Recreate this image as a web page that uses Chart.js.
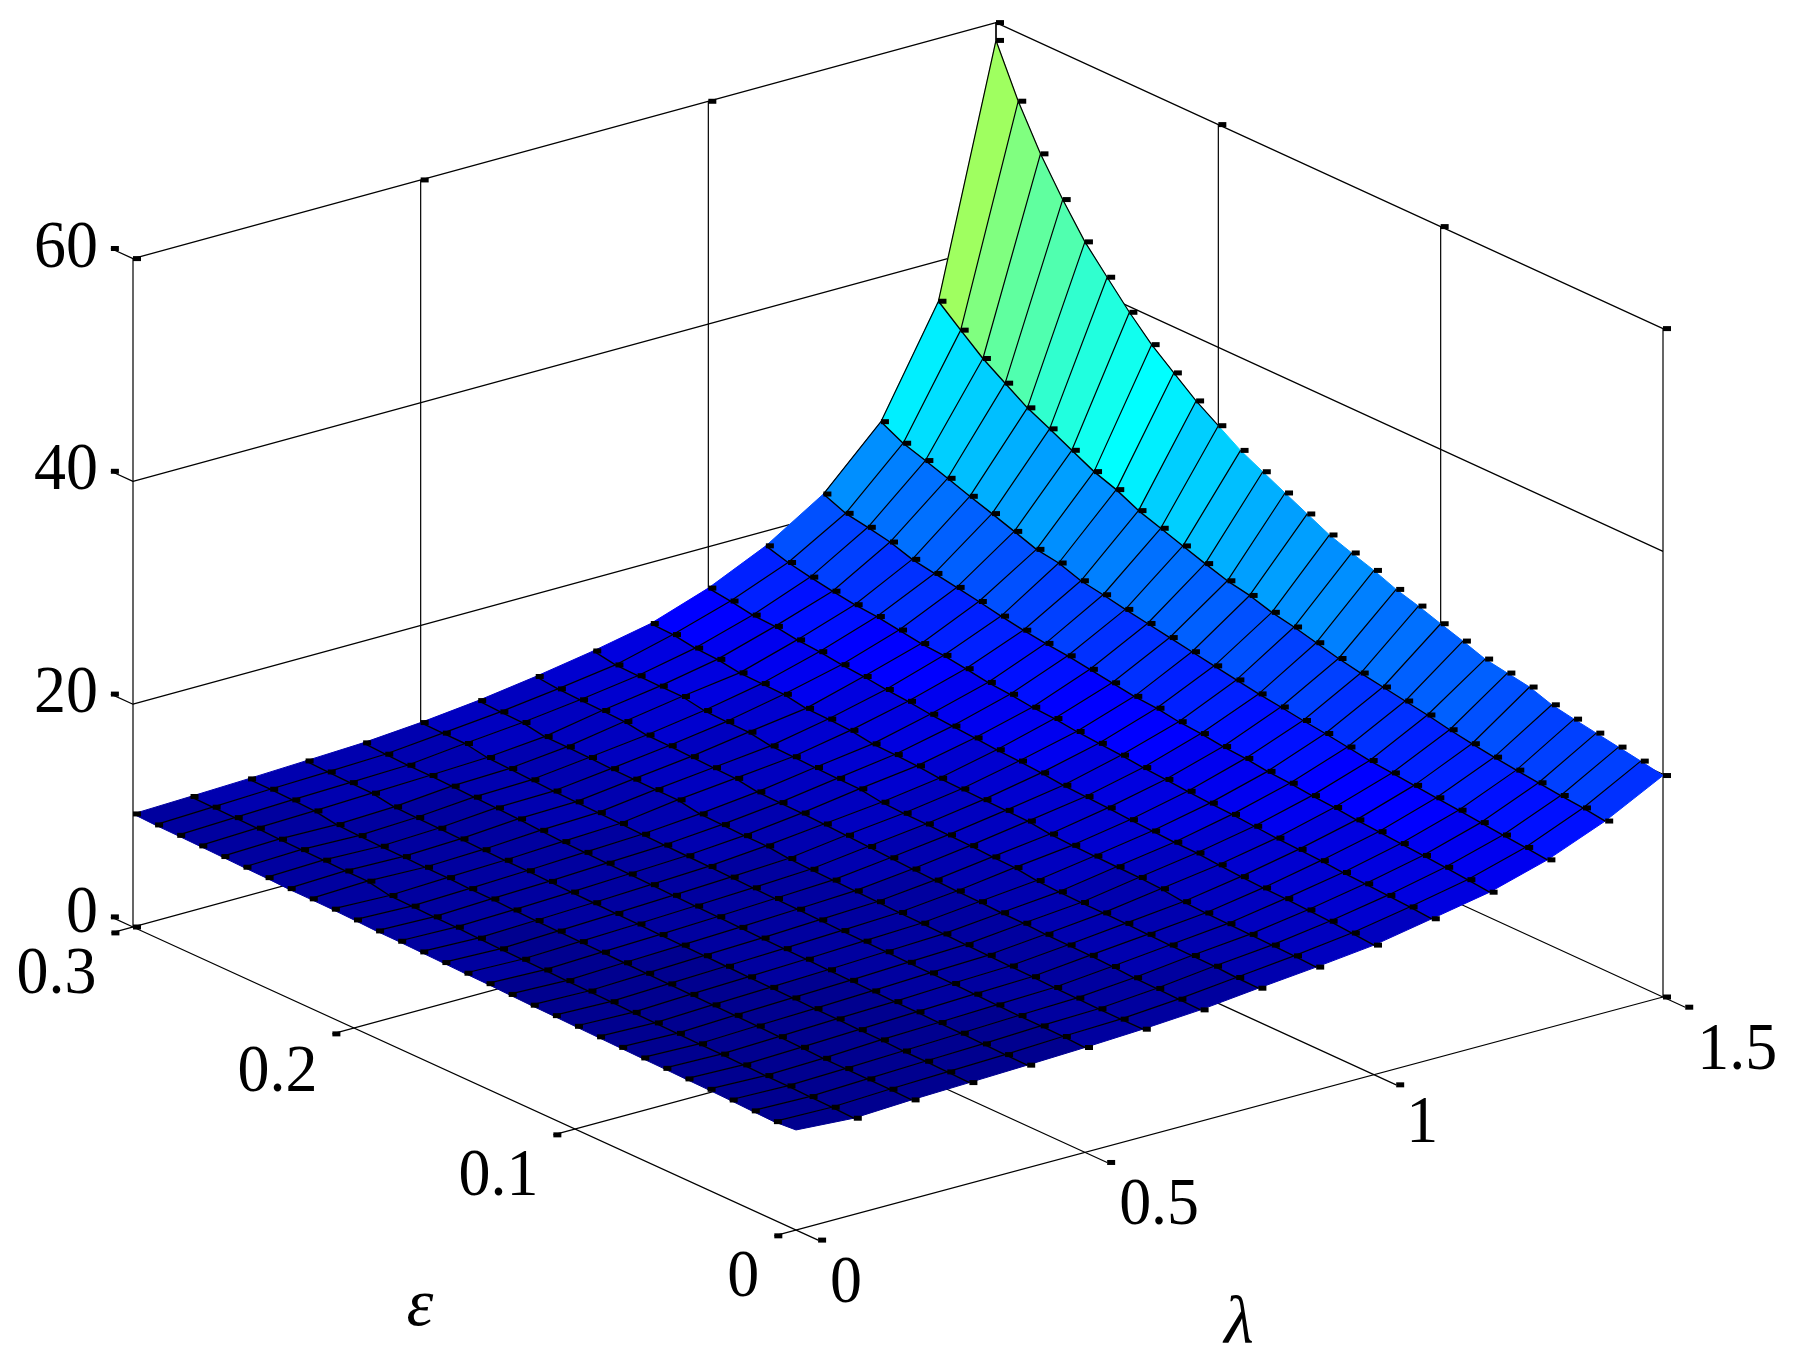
<!DOCTYPE html>
<html>
<head>
<meta charset="utf-8">
<title>Surface</title>
<script src="https://cdn.jsdelivr.net/npm/chart.js@4/dist/chart.umd.js"></script>
<style>
	html, body { margin: 0; padding: 0; background: #fff; }
	canvas { display: block; }
</style>
</head>
<body>
<canvas id="chart" width="1796" height="1370"></canvas>
<script>
const lambdaValues = [0, 0.1, 0.2, 0.3, 0.4, 0.5, 0.6, 0.7, 0.8, 0.9, 1, 1.1, 1.2, 1.3, 1.4, 1.5];
const epsilonValues = [0, 0.01, 0.02, 0.03, 0.04, 0.05, 0.06, 0.07, 0.08, 0.09, 0.1, 0.11, 0.12, 0.13, 0.14, 0.15,
	0.16, 0.17, 0.18, 0.19, 0.2, 0.21, 0.22, 0.23, 0.24, 0.25, 0.26, 0.27, 0.28, 0.29, 0.3];

// surface height along epsilon = 0 .. 0.3, one array per lambda
const zLambda00 = [8.98,8.82,8.88,8.95,9.0,9.03,9.07,9.1,9.14,9.18,9.22,9.27,9.3,9.36,9.42,9.45,9.5,9.55,9.6,9.62,9.7,9.76,9.78,9.79,9.87,9.9,9.95,10.0,10.04,10.07,10.15];
const zLambda01 = [8.64,8.72,8.77,8.82,8.84,8.89,8.95,8.97,9.0,9.03,9.07,9.12,9.17,9.2,9.25,9.3,9.33,9.38,9.46,9.48,9.53,9.58,9.96,9.97,10.03,10.07,10.1,10.18,10.22,10.25,10.30];
const zLambda02 = [8.89,8.94,8.96,8.98,8.99,9.07,9.12,9.17,9.22,9.25,9.28,9.32,9.36,9.4,9.44,9.48,9.52,9.56,9.6,9.68,9.7,9.78,9.8,9.85,9.87,9.92,10.0,10.32,10.4,10.45,10.47];
const zLambda03 = [9.05,9.1,9.15,9.16,9.25,9.26,9.32,9.33,9.38,9.42,9.46,9.5,9.54,9.58,9.62,9.66,9.7,9.75,9.8,9.85,9.9,9.93,9.97,10.03,10.08,10.13,10.18,10.5,10.54,10.59,10.67];
const zLambda04 = [9.22,9.26,9.31,9.36,9.41,9.46,9.47,9.52,9.56,9.6,9.64,9.68,9.72,9.77,9.82,9.87,9.92,9.97,10.02,10.08,10.14,10.2,10.3,10.42,10.5,10.55,10.63,10.68,10.69,10.77,10.88];
const zLambda05 = [9.41,9.49,9.53,9.55,9.6,9.65,9.7,9.74,9.78,9.82,9.86,9.9,9.95,10.0,10.05,10.1,10.15,10.2,10.25,10.3,10.36,10.42,10.48,10.54,10.6,10.7,10.8,10.88,11.23,11.25,11.29];
const zLambda06 = [9.66,9.65,9.67,9.72,9.76,9.82,9.87,9.92,9.97,10.02,10.07,10.12,10.18,10.24,10.3,10.36,10.42,10.64,10.65,10.73,10.78,11.13,11.14,11.17,11.2,11.29,11.34,11.35,11.7,11.75,11.85];
const zLambda07 = [10.0,10.05,10.1,10.15,10.25,10.34,10.36,10.41,10.49,10.52,10.6,10.65,10.72,10.8,10.9,11.0,11.1,11.2,11.27,11.3,11.35,11.65,11.7,11.78,11.85,11.9,12.2,12.28,12.33,12.4,12.6];
const zLambda08 = [10.55,10.6,10.7,10.75,10.78,10.83,10.9,10.93,10.95,11.0,11.1,11.35,11.4,11.5,11.55,11.62,11.67,11.75,12.04,12.07,12.13,12.19,12.25,12.57,12.61,12.69,13.04,13.06,13.08,13.14,13.48];
const zLambda09 = [11.05,11.15,11.2,11.25,11.3,11.35,11.45,11.7,11.8,11.85,11.9,11.95,12.05,12.3,12.35,12.4,12.45,12.5,12.7,12.8,12.85,13.15,13.25,13.3,13.65,13.7,13.75,14.05,14.15,14.45,14.53];
const zLambda10 = [11.63,11.8,11.95,12.05,12.15,12.2,12.3,12.45,12.6,12.65,12.75,12.85,13.0,13.1,13.2,13.4,13.55,13.65,13.8,13.95,14.1,14.35,14.5,14.75,14.9,15.15,15.3,15.6,15.7,16.05,16.3];
const zLambda11 = [12.6,12.75,12.87,13.0,13.1,13.25,13.35,13.45,13.6,13.75,13.85,14.0,14.15,14.3,14.5,14.65,14.8,15.05,15.15,15.4,15.55,15.87,16.15,16.3,16.6,16.9,17.05,17.35,17.7,18.1,18.68];
const zLambda12 = [13.59,13.8,14.0,14.15,14.3,14.45,14.6,14.8,14.95,15.15,15.3,15.55,15.7,15.95,16.1,16.4,16.55,16.85,17.15,17.45,17.65,17.92,18.27,18.67,19.02,19.36,19.71,20.35,20.76,21.1,21.92];
const zLambda13 = [15.1,15.3,15.5,15.7,15.9,16.1,16.3,16.5,16.7,17.0,17.3,17.55,17.85,18.11,18.45,18.8,19.15,19.51,19.86,20.21,20.61,20.95,21.63,21.94,22.64,23.32,23.96,24.66,25.34,25.98,27.0];
const zLambda14 = [17.19,17.45,17.65,17.88,18.1,18.35,18.64,18.98,19.39,19.73,20.07,20.41,20.8,21.3,21.8,22.2,22.8,23.2,23.83,24.5,25.17,25.84,26.81,27.51,28.51,29.52,30.49,31.79,33.09,34.72,36.4];
const zLambda15 = [19.88,20.26,20.6,20.94,21.28,21.65,22.33,22.67,23.01,23.71,24.35,25.02,25.6,26.39,27.04,27.74,28.71,29.68,30.67,31.67,32.97,34.28,35.88,37.5,39.49,41.72,43.98,46.86,50.05,53.86,58.4];

const lambdaTicks = [0, 0.5, 1, 1.5];
const epsilonTicks = [0, 0.1, 0.2, 0.3];
const zTicks = [0, 20, 40, 60];

const zGrid = [zLambda00, zLambda01, zLambda02, zLambda03, zLambda04, zLambda05, zLambda06, zLambda07,
	zLambda08, zLambda09, zLambda10, zLambda11, zLambda12, zLambda13, zLambda14, zLambda15];

// view of the box: floor corners on the page, and height scale
const floorFront = [796, 1230];
const floorRight = [1663, 997];
const floorLeft = [133, 927];
const floorBack = [996, 691];
const zScale = 11.14;
const colorMin = 8.6;
const colorMax = 61.2;

const project = (lambda, epsilon, z) => {
	const u = lambda / 1.5;
	const v = epsilon / 0.3;
	const mix = k => (1 - u) * (1 - v) * floorFront[k] + u * (1 - v) * floorRight[k] + (1 - u) * v * floorLeft[k] + u * v * floorBack[k];
	return {x: mix(0), y: mix(1) - zScale * z};
};

// 64 step jet colormap
const jet = value => {
	const t = Math.min(1, Math.max(0, (value - colorMin) / (colorMax - colorMin)));
	const k = Math.min(63, Math.floor(t * 64));
	const blue = k < 8 ? (k + 9) / 16 : k <= 23 ? 1 : Math.max(0, (39 - k) / 16);
	const green = k < 8 ? 0 : k <= 23 ? (k - 7) / 16 : k <= 39 ? 1 : Math.max(0, (56 - k) / 16);
	const red = k < 24 ? 0 : k <= 39 ? (k - 23) / 16 : k <= 55 ? 1 : (72 - k) / 16;
	return `rgb(${Math.round(red * 255)},${Math.round(green * 255)},${Math.round(blue * 255)})`;
};

const layers = [];
const dashes = [];

const addPolyline = (points, width = 1.2) => {
	layers.push({
		data: points,
		showLine: true,
		pointRadius: 0,
		borderColor: '#000',
		borderWidth: width,
		borderJoinStyle: 'round',
		fill: false,
		tension: 0
	});
};

const addDash = (point) => dashes.push({x: point.x + 4, y: point.y});

// walls and floor, with their ticks
zTicks.forEach(z => {
	if (z > 0) {
		addPolyline([project(0, 0.31, z), project(0, 0.3, z), project(1.5, 0.3, z), project(1.5, 0, z)]);
	} else {
		addPolyline([project(0, 0.31, z), project(0, 0.3, z)]);
	}
	addDash(project(0, 0.31, z));
});
epsilonTicks.forEach(epsilon => {
	addPolyline([project(-0.0375, epsilon, 0), project(1.5, epsilon, 0), project(1.5, epsilon, 60)]);
	addDash(project(-0.0375, epsilon, 0));
	addDash(project(1.5, epsilon, 60));
});
lambdaTicks.forEach(lambda => {
	addPolyline([project(lambda, -0.01, 0), project(lambda, 0.3, 0), project(lambda, 0.3, 60)]);
	addDash(project(lambda, -0.01, 0));
	if (lambda < 1.5) addDash(project(lambda, 0.3, 60));
});
addDash(project(0, 0.3, 0));
addDash(project(1.5, 0, 0));

// facets from the back corner to the front one
for (let j = epsilonValues.length - 2; j >= 0; j--) {
	for (let i = lambdaValues.length - 2; i >= 0; i--) {
		const color = jet(zGrid[i][j + 1]);
		const corner = (a, b) => project(lambdaValues[a], epsilonValues[b], zGrid[a][b]);
		layers.push({
			data: [corner(i, j), corner(i + 1, j), corner(i + 1, j + 1), corner(i, j + 1), corner(i, j)],
			showLine: true,
			pointRadius: 0,
			fill: 'shape',
			backgroundColor: color,
			borderColor: color,
			borderWidth: 1,
			tension: 0
		});
	}
}

// mesh lines, the outer rim only shows black around the peak
const lambdaLine = (i, from, to) => {
	const points = [];
	for (let j = from; j <= to; j++) points.push(project(lambdaValues[i], epsilonValues[j], zGrid[i][j]));
	return points;
};
const epsilonLine = (j, from, to) => {
	const points = [];
	for (let i = from; i <= to; i++) points.push(project(lambdaValues[i], epsilonValues[j], zGrid[i][j]));
	return points;
};
for (let i = 1; i < lambdaValues.length - 1; i++) addPolyline(lambdaLine(i, 0, 30), 1.4);
for (let j = 1; j < epsilonValues.length - 1; j++) addPolyline(epsilonLine(j, 0, 15), 1.2);
addPolyline(lambdaLine(15, 20, 30), 1.2);
addPolyline(epsilonLine(30, 12, 15), 1.2);

lambdaValues.forEach((lambda, i) => {
	epsilonValues.forEach((epsilon, j) => {
		if (i > 0 || j > 0) addDash(project(lambda, epsilon, zGrid[i][j]));
	});
});
layers.push({
	data: dashes,
	showLine: false,
	pointStyle: 'line',
	pointRadius: 4,
	pointBorderWidth: 5,
	pointBorderColor: '#000',
	pointBackgroundColor: '#000'
});

// the library paints dataset 0 last
const datasets = layers.map((layer, index) => ({...layer, order: layers.length - index}));

const drawDigit = (ctx, text, x, y, align) => {
	ctx.save();
	ctx.translate(x, y);
	ctx.scale(0.94, 1);
	ctx.textAlign = align;
	ctx.textBaseline = 'alphabetic';
	ctx.font = '68px "Liberation Serif", "Times New Roman", serif';
	ctx.fillStyle = '#000';
	ctx.fillText(text, 0, 0);
	ctx.restore();
};

const tickLabels = {
	id: 'tickLabels',
	afterDraw(chart) {
		const {ctx} = chart;
		const xs = chart.scales.x;
		const ys = chart.scales.y;
		const at = p => ({x: xs.getPixelForValue(p.x), y: ys.getPixelForValue(p.y)});

		zTicks.forEach(z => {
			const p = at(project(0, 0.31, z));
			drawDigit(ctx, String(z), p.x - 13, p.y + (z === 0 ? 15 : 18), 'right');
		});
		epsilonTicks.forEach(epsilon => {
			const p = at(project(-0.0375, epsilon, 0));
			drawDigit(ctx, String(epsilon), p.x - 15, p.y + (epsilon === 0.2 ? 57 : 60), 'right');
		});
		lambdaTicks.forEach(lambda => {
			const p = at(project(lambda, -0.01, 0));
			const shift = lambda === 1.5 ? 12 : lambda === 1 ? 10 : 12;
			drawDigit(ctx, String(lambda), p.x + shift, p.y + (lambda === 1 ? 57 : 62), 'left');
		});

		ctx.save();
		ctx.fillStyle = '#000';
		ctx.textBaseline = 'alphabetic';
		ctx.textAlign = 'center';
		ctx.font = 'italic 68px "Liberation Serif", "Times New Roman", serif';
		ctx.fillText('ε', 420, 1325);
		ctx.fillText('λ', 1239, 1343);
		ctx.restore();
	}
};

new Chart(document.getElementById('chart'), {
	type: 'scatter',
	data: {datasets},
	options: {
		responsive: false,
		animation: false,
		layout: {padding: 0, autoPadding: false},
		events: [],
		plugins: {
			legend: {display: false},
			title: {display: false},
			tooltip: {enabled: false}
		},
		scales: {
			x: {type: 'linear', min: 0, max: 1796, display: false},
			y: {type: 'linear', min: 0, max: 1370, reverse: true, display: false}
		}
	},
	plugins: [tickLabels]
});
</script>
</body>
</html>
